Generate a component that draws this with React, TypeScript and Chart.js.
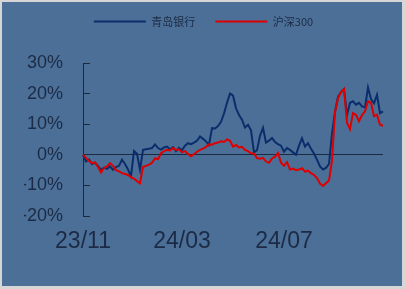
import { useEffect, useRef } from 'react';
import { Chart, registerables } from 'chart.js';

Chart.register(...registerables);

const seriesNames = ['青岛银行', '沪深300'];
const tickLabels = ['23/11', '24/03', '24/07'];
const tickPositions = [0, 33, 67];

const qingdaoBank = [
  0, -2.2, -1.5, -3.0, -2.6, -3.6, -4.9, -4.2, -4.6, -3.8,
  -4.9, -4.0, -3.6, -1.6, -3.0, -4.8, -7.0, 1.2, 0.3, -4.9,
  1.6, 1.8, 2.0, 2.2, 3.4, 2.2, 1.7, 2.4, 2.7, 1.8,
  2.5, 1.2, 2.3, 1.5, 3.0, 3.8, 3.5, 4.0, 4.6, 6.0,
  5.2, 4.4, 3.2, 8.7, 8.6, 9.4, 10.8, 13.5, 17.0, 20.0,
  19.4, 15.2, 13.0, 11.5, 8.9, 9.8, 8.0, 0.8, 1.5, 6.2,
  8.8, 4.0, 4.6, 5.5, 4.2, 3.5, 3.0, 1.0, 2.2, 1.6,
  0.8, 0.0, 3.0, 5.4, 2.7, 3.8, 2.0, 0.4, -1.6, -3.8,
  -4.8, -4.3, -3.0, 7.0, 14.0, 19.0, 20.5, 21.5, 13.0, 17.0,
  17.5, 16.4, 17.0, 15.8, 15.5, 22.0, 18.2, 16.8, 19.6, 13.6,
  14.2,
];

const csi300 = [
  0, -1.0, -2.0, -2.7, -2.5, -4.0, -5.8, -4.3, -3.8, -2.7,
  -3.6, -5.0, -5.4, -6.0, -6.3, -6.6, -7.3, -7.8, -8.6, -9.3,
  -4.0, -3.6, -3.2, -2.6, -1.2, -1.4, 0.5, 1.2, 1.6, 1.4,
  2.2, 1.6, 1.8, 0.8, 1.2, 0.3, -0.5, 0.2, 1.0, 1.6,
  2.0, 2.6, 3.4, 3.3, 3.8, 4.0, 4.4, 4.2, 5.0, 4.6,
  2.7, 3.2, 2.4, 2.6, 1.6, 1.2, 0.5, 0.4, -1.1, -1.3,
  -1.0, -2.2, -2.6, -1.2, -0.6, 0.6, -2.6, -3.6, -2.4, -4.8,
  -4.5, -5.0, -4.8, -4.4, -5.5, -5.2, -6.0, -6.6, -7.6, -9.4,
  -10.2, -9.3, -8.4, -2.0, 14.0, 18.5, 20.5, 21.5, 10.5, 8.4,
  13.6, 13.0, 11.0, 13.0, 14.2, 17.5, 17.0, 12.6, 13.1, 9.8,
  9.5,
];

const yMin = -20;
const yMax = 30;
const yStep = 10;

const panelColor = '#4c6f98';
const textColor = '#1c2b45';
const axisColor = '#1a2a40';
const blueColor = '#0b2d6c';
const redColor = '#dd0000';

export default function App() {
  const canvasRef = useRef<HTMLCanvasElement | null>(null);

  useEffect(() => {
    const canvas = canvasRef.current;
    if (!canvas) return;

    const categoryLabels = qingdaoBank.map((_, i) => {
      const k = tickPositions.indexOf(i);
      return k >= 0 ? tickLabels[k] : '';
    });

    const legendSpacer = {
      id: 'legendSpacer',
      beforeInit(chart: any) {
        const orig = chart.legend.fit;
        chart.legend.fit = function () {
          orig.call(this);
          this.height += 26;
        };
      },
    };

    const chart = new Chart(canvas, {
      type: 'line',
      data: {
        labels: categoryLabels,
        datasets: [
          {
            label: seriesNames[0],
            data: qingdaoBank,
            borderColor: blueColor,
            backgroundColor: blueColor,
            borderWidth: 2,
            pointRadius: 0,
            tension: 0,
            order: 1,
          },
          {
            label: seriesNames[1],
            data: csi300,
            borderColor: redColor,
            backgroundColor: redColor,
            borderWidth: 2,
            pointRadius: 0,
            tension: 0,
            order: 0,
          },
        ],
      },
      options: {
        animation: false,
        responsive: false,
        devicePixelRatio: 1,
        layout: { padding: { top: -6, left: 22, right: 19, bottom: 0 } },
        plugins: {
          legend: {
            display: true,
            position: 'top',
            align: 'center',
            labels: {
              boxWidth: 52,
              boxHeight: 0,
              padding: 20,
              color: textColor,
              font: { family: '"Noto Sans CJK SC", "Liberation Sans", sans-serif', size: 11 },
              sort: (a: any, b: any) => a.datasetIndex - b.datasetIndex,
            },
          },
          tooltip: { enabled: false },
        },
        scales: {
          x: {
            type: 'category',
            offset: false,
            grid: { display: false, drawTicks: false },
            border: { display: false },
            ticks: {
              autoSkip: false,
              maxRotation: 0,
              minRotation: 0,
              padding: 12,
              color: textColor,
              font: { family: '"Liberation Sans", Arial, sans-serif', size: 23 },
            },
            afterFit: (s: any) => {
              s.height = 70;
            },
          },
          y: {
            min: yMin,
            max: yMax,
            ticks: {
              stepSize: yStep,
              padding: 27,
              color: textColor,
              font: { family: '"Liberation Sans", Arial, sans-serif', size: 18 },
              callback: (v: any) => `${v}%`,
            },
            grid: {
              color: (ctx: any) => (ctx.tick && ctx.tick.value === 0 ? axisColor : 'transparent'),
              tickColor: axisColor,
              tickLength: -7,
              drawTicks: true,
              lineWidth: 1,
            },
            border: { color: axisColor, width: 1 },
            afterFit: (s: any) => {
              s.width = 59;
            },
          },
        },
      },
      plugins: [legendSpacer],
    } as any);

    return () => chart.destroy();
  }, []);

  return (
    <div
      style={{
        position: 'fixed',
        left: 0,
        top: 0,
        width: 406,
        height: 289,
        background: '#d6d6d6',
      }}
    >
      <div
        style={{
          position: 'absolute',
          left: 2,
          top: 2,
          width: 400,
          height: 284,
          background: panelColor,
        }}
      >
        <canvas ref={canvasRef} width={400} height={284} style={{ display: 'block', width: 400, height: 284 }} />
      </div>
    </div>
  );
}
